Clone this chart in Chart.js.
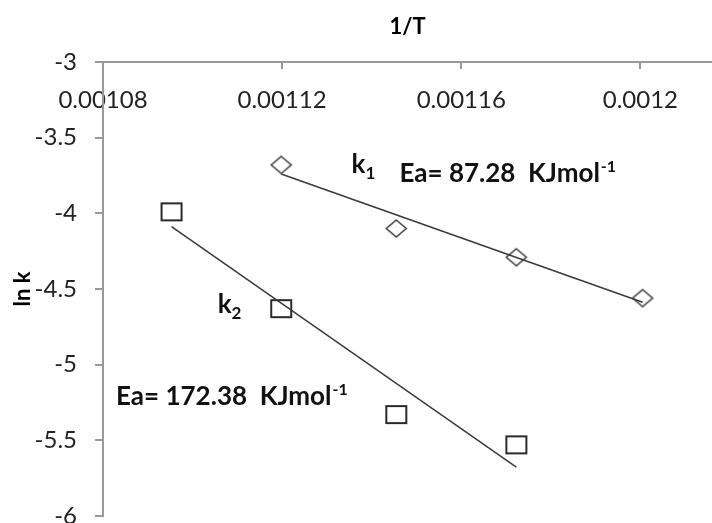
<!DOCTYPE html>
<html>
<head>
<meta charset="utf-8">
<script src="https://cdn.jsdelivr.net/npm/chart.js@4.4.1/dist/chart.umd.min.js"></script>
<style>
  html, body { margin: 0; padding: 0; background: #fff; }
  #wrap { width: 712px; height: 523px; }
</style>
</head>
<body>
<div id="wrap"><canvas id="lnkChart"></canvas></div>
<script>
// 1/T values (K^-1) and ln k for the two rate constants
const invT1 = [0.0011198, 0.0011455, 0.0011723, 0.0012005];
const lnK1 = [-3.68, -4.10, -4.29, -4.56];
const invT2 = [0.0010953, 0.0011198, 0.0011455, 0.0011723];
const lnK2 = [-3.99, -4.63, -5.33, -5.53];
const xTicks = [0.00108, 0.00112, 0.00116, 0.0012];
const yTicks = [-3, -3.5, -4, -4.5, -5, -5.5, -6];
const eaLabels = ['87.28', '172.38'];

const axisGray = '#999';

// least squares line over the data range (like the Excel trendline)
function trend(xs, ys) {
  const n = xs.length;
  const mx = xs.reduce((a, b) => a + b, 0) / n;
  const my = ys.reduce((a, b) => a + b, 0) / n;
  let sxy = 0, sxx = 0;
  xs.forEach((x, i) => { sxy += (x - mx) * (ys[i] - my); sxx += (x - mx) * (x - mx); });
  const b = sxy / sxx;
  const x0 = Math.min(...xs), x1 = Math.max(...xs);
  return [{ x: x0, y: my + b * (x0 - mx) }, { x: x1, y: my + b * (x1 - mx) }];
}

function marker(kind) {
  const c = document.createElement('canvas');
  c.width = 24; c.height = 21;
  const g = c.getContext('2d');
  if (kind === 'diamond') {
    g.strokeStyle = '#3c3c3c';
    g.lineWidth = 1.5;
    g.beginPath();
    g.moveTo(12, 2); g.lineTo(22, 10.5); g.lineTo(12, 19); g.lineTo(2, 10.5);
    g.closePath();
    g.stroke();
  } else {
    g.strokeStyle = '#2a2a2a';
    g.lineWidth = 2;
    g.strokeRect(2, 2, 20, 17);
  }
  return c;
}

const pts = (xs, ys) => xs.map((x, i) => ({ x: x, y: ys[i] }));

// text labels drawn in data space
const notesPlugin = {
  id: 'notes',
  afterDatasetsDraw(chart) {
    const { ctx, scales: { x, y } } = chart;
    ctx.save();
    ctx.fillStyle = '#111';
    ctx.textBaseline = 'alphabetic';
    ctx.textAlign = 'left';

    function sub(main, small, xv, yv) {
      const px = x.getPixelForValue(xv), py = y.getPixelForValue(yv);
      ctx.font = 'bold 26px Lato';
      ctx.fillText(main, px, py);
      const w = ctx.measureText(main).width;
      ctx.font = 'bold 17px Lato';
      ctx.fillText(small, px + w, py + 6);
    }
    function ea(val, xv, yv) {
      const px = x.getPixelForValue(xv), py = y.getPixelForValue(yv);
      ctx.font = 'bold 26px Lato';
      const s = 'Ea= ' + val + '  KJmol';
      ctx.fillText(s, px, py);
      const w = ctx.measureText(s).width;
      ctx.font = 'bold 16px Lato';
      ctx.fillText('-1', px + w + 1, py - 10);
    }
    sub('k', '1', 0.0011355, -3.733);
    ea(eaLabels[0], 0.0011462, -3.793);
    sub('k', '2', 0.0011056, -4.659);
    ea(eaLabels[1], 0.0010829, -5.267);
    ctx.restore();
  }
};

const tickFont = { family: 'Lato', size: 24 };
const titleFont = { family: 'Lato', size: 22, weight: 'bold' };

new Chart(document.getElementById('lnkChart'), {
  type: 'scatter',
  data: {
    datasets: [
      {
        label: 'k1 fit',
        data: trend(invT1, lnK1),
        showLine: true,
        borderColor: '#3a3a3a',
        borderWidth: 1.5,
        pointRadius: 0
      },
      {
        label: 'k2 fit',
        data: trend(invT2, lnK2),
        showLine: true,
        borderColor: '#3a3a3a',
        borderWidth: 1.5,
        pointRadius: 0
      },
      {
        label: 'k1',
        data: pts(invT1, lnK1),
        pointStyle: marker('diamond'),
        pointRadius: 10
      },
      {
        label: 'k2',
        data: pts(invT2, lnK2),
        pointStyle: marker('square'),
        pointRadius: 10
      }
    ]
  },
  options: {
    responsive: true,
    maintainAspectRatio: false,
    animation: false,
    layout: { autoPadding: false, padding: { left: 0, right: 0, top: 0, bottom: 7 } },
    plugins: {
      legend: { display: false },
      tooltip: { enabled: false }
    },
    scales: {
      x: {
        type: 'linear',
        position: 'top',
        min: 0.00108,
        max: 0.001216,
        afterBuildTicks: s => { s.ticks = xTicks.map(v => ({ value: v })); },
        afterFit: s => { s.height = 62; s.paddingLeft = 0; s.paddingRight = 0; },
        border: { color: axisGray, width: 2 },
        grid: { drawOnChartArea: false, tickLength: -7, color: axisGray, lineWidth: 2 },
        ticks: { mirror: true, padding: 24, font: tickFont, color: '#222', callback: v => String(v) },
        title: { display: true, text: '1/T', font: titleFont, color: '#000', padding: { top: 14, bottom: 0 } }
      },
      y: {
        min: -6,
        max: -3,
        afterBuildTicks: s => { s.ticks = yTicks.map(v => ({ value: v })); },
        afterFit: s => { s.width = 103; s.paddingTop = 0; s.paddingBottom = 0; },
        border: { color: axisGray, width: 2 },
        grid: { drawOnChartArea: false, tickLength: 8, color: axisGray, lineWidth: 2 },
        ticks: { padding: 18, font: tickFont, color: '#222', callback: v => String(v) },
        title: { display: true, text: 'ln k', font: titleFont, color: '#000', padding: { top: 10, bottom: 0 } }
      }
    }
  },
  plugins: [notesPlugin]
});
</script>
</body>
</html>
